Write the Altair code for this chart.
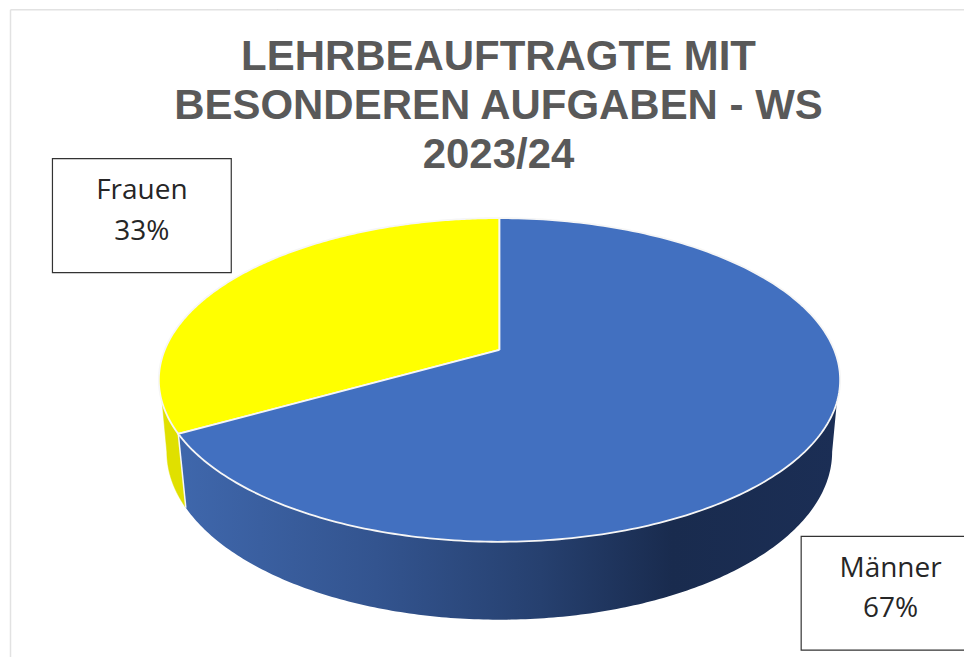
import numpy as np
import pandas as pd
import altair as alt

# Values
categories = ["Männer", "Frauen"]
shares = [67, 33]
label_lines = [["Männer", "67%"], ["Frauen", "33%"]]
title_lines = ["LEHRBEAUFTRAGTE MIT", "BESONDEREN AUFGABEN - WS", "2023/24"]

X0, X1, Y0, Y1 = 8, 965, 9, 658
W, H = X1 - X0, Y1 - Y0
xs = alt.Scale(domain=[X0, X1], nice=False, zero=False)
ys = alt.Scale(domain=[Y1, Y0], nice=False, zero=False)
X = alt.X("x:Q", scale=xs, axis=None)
Y = alt.Y("y:Q", scale=ys, axis=None)

# Pie geometry (perspective view: apex sits above the centre of the rim)
CX, CY, RX, RY = 500, 380, 341, 162
APEX_Y = 350
LCX, LCY, LRX, LRY = 500, 452, 333, 168


def rim(t, cx=CX, cy=CY, rx=RX, ry=RY):
    t = np.radians(t)
    return cx + rx * np.sin(t), cy - ry * np.cos(t)


def rim_angle(share):
    """Rim parameter hit by the slice edge for a cumulative share."""
    a = np.radians(share / 100 * 360)
    k = RY / RX
    dx, dy = np.sin(a), -np.cos(a) * k
    oy = APEX_Y - CY
    A = dx**2 / RX**2 + dy**2 / RY**2
    B = 2 * oy * dy / RY**2
    C = oy**2 / RY**2 - 1
    s = (-B + np.sqrt(B**2 - 4 * A * C)) / (2 * A)
    px, py = dx * s, oy + dy * s
    return np.degrees(np.arctan2(px / RX, -py / RY)) % 360


T_END = rim_angle(shares[0])


def frame(px, py):
    return pd.DataFrame({"x": px, "y": py, "i": range(len(px))})


def shape(df, **kw):
    return alt.Chart(df).mark_line(clip=True, **kw).encode(x=X, y=Y, order="i:Q")


def wedge(t0, t1):
    px, py = rim(np.linspace(t0, t1, 240))
    return frame([CX, *px, CX], [APEX_Y, *py, APEX_Y])


def wall(t0, t1, lt0, lt1):
    ux, uy = rim(np.linspace(t0, t1, 200))
    lx, ly = rim(np.linspace(lt1, lt0, 200), LCX, LCY, LRX, LRY)
    return frame([*ux, *lx, ux[0]], [*uy, *ly, uy[0]])


blue_grad = alt.LinearGradient(
    gradient="linear",
    x1=0, x2=1, y1=0, y2=0,
    stops=[
        alt.GradientStop(offset=0, color="#3f67ac"),
        alt.GradientStop(offset=0.3, color="#33548f"),
        alt.GradientStop(offset=0.55, color="#26406f"),
        alt.GradientStop(offset=0.75, color="#192b4e"),
        alt.GradientStop(offset=1, color="#1b2e55"),
    ],
)

EDGE = "#f6f6f6"
yellow_wall = shape(wall(T_END, 262, T_END, 270), fill="#e0e000", stroke="#e0e000", strokeWidth=0.5)
blue_wall = shape(wall(98, T_END, 90, T_END), fill=blue_grad, strokeWidth=0)
ex0, ey0 = rim(T_END)
ex1, ey1 = rim(T_END, LCX, LCY, LRX, LRY)
wall_edge = shape(frame([ex0, ex1], [ey0, ey1]), stroke=EDGE, strokeWidth=1.5)
yellow_top = shape(wedge(T_END, 360), fill="#ffff00", stroke=EDGE, strokeWidth=1.8)
blue_top = shape(wedge(0, T_END), fill="#4270c0", stroke=EDGE, strokeWidth=1.8)

# Frame of the screenshot
frame_lines = pd.DataFrame(
    {"x": [10.5, 10.5], "x2": [965, 10.5], "y": [9.5, 9.5], "y2": [9.5, 658]}
)
ticks = pd.DataFrame({"x": [98, 278, 459, 639, 820], "y": [9] * 5, "y2": [9.5] * 5})
frame_rule = (
    alt.Chart(frame_lines)
    .mark_rule(color="#e2e2e2", strokeWidth=1.5)
    .encode(x=X, x2="x2:Q", y=Y, y2="y2:Q")
)
tick_rule = (
    alt.Chart(ticks)
    .mark_rule(color="#d8d8d8", strokeWidth=1)
    .encode(x=X, y=Y, y2="y2:Q")
)

# Label boxes
boxes = pd.DataFrame(
    {"x": [802, 52.5], "x2": [990, 231.5], "y": [536.5, 158.5], "y2": [650.5, 272.5]}
)
box_marks = (
    alt.Chart(boxes)
    .mark_rect(fill="white", stroke="#333333", strokeWidth=1.2, clip=True)
    .encode(x=X, x2="x2:Q", y=Y, y2="y2:Q")
)
label_df = pd.DataFrame(
    {
        "x": [891.5, 891.5, 142, 142],
        "y": [577, 617, 199, 239.5],
        "t": [label_lines[0][0], label_lines[0][1], label_lines[1][0], label_lines[1][1]],
    }
)
labels = (
    alt.Chart(label_df)
    .mark_text(font="Open Sans", fontSize=28, color="#262626", align="center", baseline="alphabetic")
    .encode(x=X, y=Y, text="t:N")
)
title_df = pd.DataFrame({"x": [499] * 3, "y": [70, 119, 168], "t": title_lines})
title = (
    alt.Chart(title_df)
    .mark_text(font="Liberation Sans", fontWeight="bold", fontSize=42, color="#595959", align="center", baseline="alphabetic")
    .encode(x=X, y=Y, text="t:N")
)

chart = (
    alt.layer(
        frame_rule, tick_rule, yellow_wall, blue_wall, wall_edge, yellow_top, blue_top,
        box_marks, labels, title,
    )
    .properties(width=W, height=H, padding=0, background="white")
    .configure_view(stroke=None)
)
chart.save("out.html", embed_options={"renderer": "svg", "actions": False})
